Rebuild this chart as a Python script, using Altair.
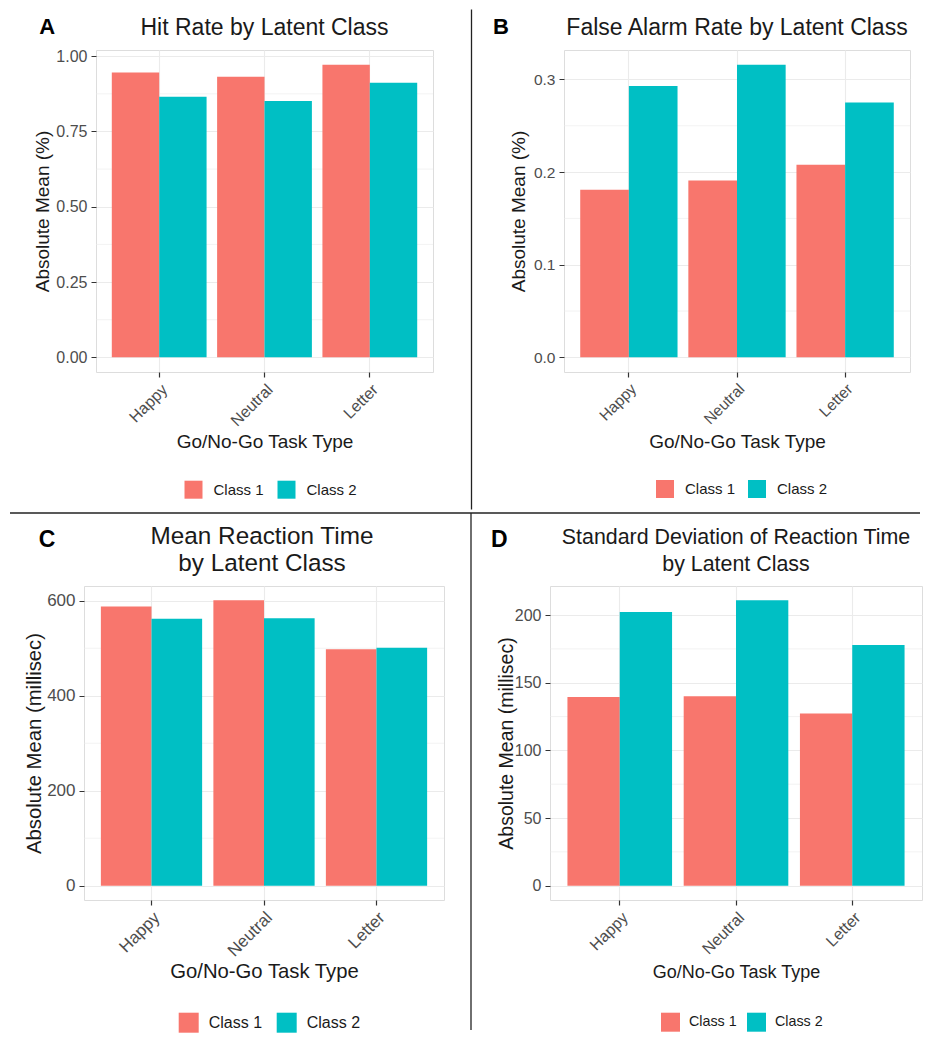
import altair as alt
import pandas as pd

# ---------------- data ----------------
tasks = ["Happy", "Neutral", "Letter"]
classes = ["Class 1", "Class 2"]
class_colors = ["#F8766D", "#00BFC4"]

hit_class1 = [0.946, 0.932, 0.972]
hit_class2 = [0.865, 0.851, 0.912]

fa_class1 = [0.181, 0.191, 0.208]
fa_class2 = [0.293, 0.316, 0.275]

mrt_class1 = [588, 601, 498]
mrt_class2 = [562, 563, 501]

sdrt_class1 = [139.5, 140.0, 127.2]
sdrt_class2 = [202.2, 210.9, 177.8]

hit_ticks = [0, 0.25, 0.5, 0.75, 1.0]
hit_minor = [0.125, 0.375, 0.625, 0.875]
fa_ticks = [0, 0.1, 0.2, 0.3]
fa_minor = [0.05, 0.15, 0.25]
mrt_ticks = [0, 200, 400, 600]
mrt_minor = [100, 300, 500]
sdrt_ticks = [0, 50, 100, 150, 200]
sdrt_minor = [25, 75, 125, 175]

FONT = "Liberation Sans"
GRID = "#EBEBEB"
DIVIDER = "#222222"


def panel(letter, title, c1, c2, ytitle, ticks, minor, fmt, w, h, s, extras=()):
    df = pd.DataFrame({
        "task": tasks * 2,
        "cls": [classes[0]] * len(tasks) + [classes[1]] * len(tasks),
        "value": list(c1) + list(c2),
    })
    vmax = max(list(c1) + list(c2))
    yscale = alt.Scale(domain=[-0.05 * vmax, 1.05 * vmax], nice=False, zero=False)
    xscale = alt.Scale(domain=tasks, paddingInner=0.1, paddingOuter=0.15)

    yaxis = alt.Axis(title=ytitle, values=ticks, format=fmt, labelFontSize=s["tick"],
                     labelColor="#4D4D4D", labelFont=FONT, labelPadding=4, ticks=True,
                     tickSize=5, tickColor="#333333", domain=False, grid=True, gridColor=GRID,
                     gridWidth=1.1, titleFont=FONT, titleFontSize=s["yaxis"],
                     titleFontWeight="normal", titleColor="#1a1a1a",
                     titleX=s["ytx"], titleBaseline="alphabetic")

    bars = alt.Chart(df).mark_bar().encode(
        x=alt.X("task:N", sort=tasks, scale=xscale,
                axis=alt.Axis(title="Go/No-Go Task Type", labelAngle=-45, labelAlign="right",
                              labelBaseline="top", labelFontSize=s["tick"], labelColor="#4D4D4D",
                              labelFont=FONT, labelPadding=4, ticks=True, tickSize=5,
                              tickColor="#333333", tickWidth=1.2, tickBand="center",
                              domain=False, grid=True, gridColor=GRID, gridWidth=1.1,
                              bandPosition=0.5, titleFont=FONT, titleFontSize=s["axis"],
                              titleFontWeight="normal", titleColor="#1a1a1a",
                              titleY=s["xty"], titleBaseline="alphabetic")),
        xOffset=alt.XOffset("cls:N", sort=classes,
                            scale=alt.Scale(domain=classes, paddingInner=0, paddingOuter=0)),
        y=alt.Y("value:Q", scale=yscale, axis=yaxis),
        y2=alt.datum(0),
        color=alt.Color("cls:N", title=None,
                        scale=alt.Scale(domain=classes, range=class_colors),
                        legend=alt.Legend(orient="none", legendX=s["lx"], legendY=s["ly"],
                                          direction="horizontal", symbolType="square",
                                          symbolSize=s["sym"] ** 2, symbolStrokeWidth=0,
                                          labelFont=FONT, labelFontSize=s["leg"],
                                          labelColor="#1a1a1a", labelOffset=s["loff"],
                                          columnPadding=s["cpad"], padding=0)),
    )

    minor_rules = alt.Chart(pd.DataFrame({"value": minor})).mark_rule(
        color=GRID, strokeWidth=0.6
    ).encode(y=alt.Y("value:Q", scale=yscale, axis=yaxis))

    letter_mark = alt.Chart(pd.DataFrame({"t": [letter]})).mark_text(
        font=FONT, fontSize=s["letter"], fontWeight="bold", align="left",
        baseline="alphabetic", color="black"
    ).encode(text="t:N", x=alt.value(s["lex"]), y=alt.value(s["ley"]))

    title_mark = alt.Chart(pd.DataFrame({"t": [title]})).mark_text(
        font=FONT, fontSize=s["title"], align="center", baseline="alphabetic",
        color="#1a1a1a", lineBreak="\n", lineHeight=s["lh"]
    ).encode(text="t:N", x=alt.value(w / 2 + s.get("tdx", 0)), y=alt.value(s["ty"]))

    layers = [minor_rules, bars, letter_mark, title_mark] + list(extras)
    return alt.layer(*layers).properties(width=w, height=h)


one = pd.DataFrame({"k": [1]})


def rule(color, **enc):
    return alt.Chart(one).mark_rule(color=color, strokeWidth=1.3).encode(**enc)


def spacer(w):
    return alt.Chart(one).mark_point(opacity=0).encode(
        x=alt.value(0), y=alt.value(0)
    ).properties(width=w, height=1, view=alt.ViewBackground(strokeOpacity=0))


# divider lines (panel-relative pixel placement) and a white anchor for left alignment
vline_top = rule(DIVIDER, x=alt.value(375.5), y=alt.value(-40.5), y2=alt.value(459.4))
left_anchor = rule("white", x=alt.value(-85.5), y=alt.value(0), y2=alt.value(4))
hline = rule(DIVIDER, x=alt.value(-74), x2=alt.value(836), y=alt.value(-73))
vline_bottom = rule(DIVIDER, x=alt.value(-79), y=alt.value(-73), y2=alt.value(444))

sA = dict(tick=16, axis=19, yaxis=19, leg=15, sym=18, title=23, letter=22, lh=27, ty=-15,
          lex=-56.8, ley=-15.7, xty=75, ytx=-48, lx=88.5, ly=430.7, loff=11, cpad=13)
sB = dict(tick=15.5, axis=19, yaxis=19, leg=15, sym=18, title=23, letter=22, lh=27, ty=-15,
          lex=-71, ley=-15.7, xty=75.3, ytx=-40, lx=92, ly=430, loff=11, cpad=12)
sC = dict(tick=17, axis=20.3, yaxis=20.3, leg=16, sym=20, title=24.3, letter=23, lh=27, ty=-42,
          lex=-45.3, ley=-39, xty=77.7, ytx=-44, lx=94.7, ly=426.7, loff=10, cpad=14, tdx=-2)
sD = dict(tick=16, axis=18, yaxis=19.5, leg=14.3, sym=19, title=21.4, letter=23, lh=27, ty=-42,
          lex=-59, ley=-39, xty=77.7, ytx=-38, lx=111, ly=426.7, loff=9, cpad=10)

pA = panel("A", "Hit Rate by Latent Class", hit_class1, hit_class2, "Absolute Mean (%)",
           hit_ticks, hit_minor, ".2f", 337, 322, sA, extras=[vline_top, left_anchor])
pB = panel("B", "False Alarm Rate by Latent Class", fa_class1, fa_class2, "Absolute Mean (%)",
           fa_ticks, fa_minor, ".1f", 346, 322, sB)
pC = panel("C", "Mean Reaction Time\nby Latent Class", mrt_class1, mrt_class2,
           "Absolute Mean (millisec)", mrt_ticks, mrt_minor, "d", 360, 314, sC, extras=[hline])
pD = panel("D", "Standard Deviation of Reaction Time\nby Latent Class", sdrt_class1, sdrt_class2,
           "Absolute Mean (millisec)", sdrt_ticks, sdrt_minor, "d", 372, 314, sD,
           extras=[vline_bottom])


def row(*items):
    return alt.hconcat(*items, spacing=0, bounds="flush").resolve_scale(
        x="independent", y="independent", xOffset="independent", color="independent"
    ).resolve_legend(color="independent")


row1 = row(spacer(12.5), pA, spacer(130.5), pB)
row2 = row(spacer(1), pC, spacer(106), pD)

chart = alt.vconcat(row1, row2, spacing=0, bounds="full").resolve_scale(
    x="independent", y="independent", xOffset="independent", color="independent"
).resolve_legend(
    color="independent"
).properties(
    padding=0, background="white"
).configure_view(
    stroke="#8f8f8f", strokeWidth=1
).configure(font=FONT)

chart.save("out.html", embed_options={"renderer": "svg", "actions": False})
